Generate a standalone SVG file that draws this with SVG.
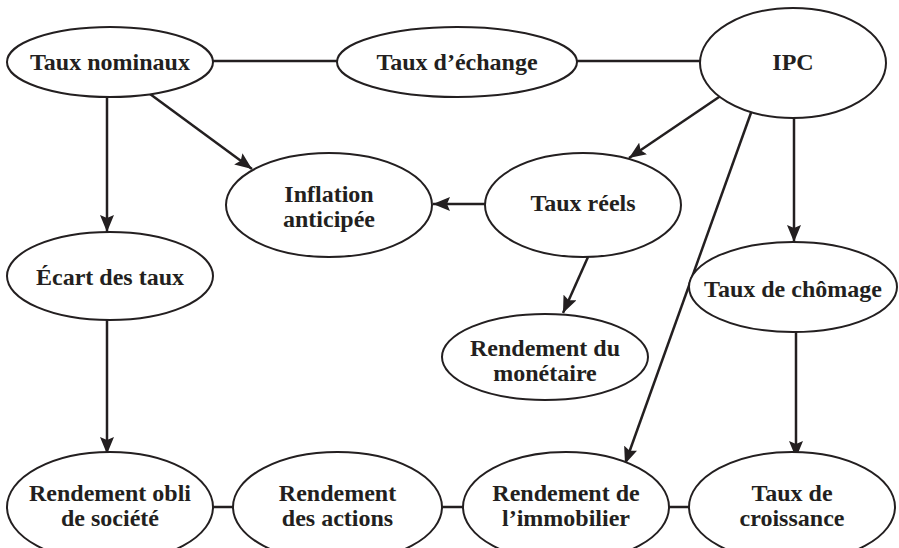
<svg xmlns="http://www.w3.org/2000/svg" width="899" height="548" viewBox="0 0 899 548">
<style>
.n ellipse{fill:#fff;stroke:#231f20;stroke-width:2}
.n text{font-family:"Liberation Serif","Times New Roman",serif;font-weight:bold;font-size:24px;fill:#231f20;text-anchor:middle}
.c line{stroke:#231f20;stroke-width:2.5;fill:none}
.c .a{marker-end:url(#ah)}
</style>
<defs>
<marker id="ah" markerUnits="userSpaceOnUse" markerWidth="18" markerHeight="14" refX="17" refY="7" orient="auto">
<path d="M0,0 L17,7 L0,14 L3,7 Z" fill="#231f20"/>
</marker>
</defs>
<rect width="899" height="548" fill="#fff"/>
<g class="c" id="connectors">
<line x1="213" y1="61" x2="337" y2="61"/>
<line x1="577" y1="61" x2="700" y2="61"/>
<line x1="213" y1="507" x2="233" y2="507"/>
<line x1="442" y1="507" x2="463" y2="507"/>
<line x1="669" y1="507" x2="690" y2="507"/>
<line class="a" x1="107" y1="96" x2="107" y2="232"/>
<line class="a" x1="150" y1="94" x2="252" y2="169"/>
<line class="a" x1="485" y1="204" x2="433" y2="204"/>
<line class="a" x1="722" y1="95" x2="629" y2="158"/>
<line class="a" x1="752" y1="110" x2="625" y2="464"/>
<line class="a" x1="794" y1="117" x2="794" y2="242"/>
<line class="a" x1="588" y1="257" x2="563" y2="313"/>
<line class="a" x1="107" y1="320" x2="107" y2="454"/>
<line class="a" x1="796" y1="332" x2="796" y2="458"/>
</g>
<g class="n" id="taux-nominaux"><ellipse cx="110" cy="62" rx="103" ry="35"/><text x="110" y="70">Taux nominaux</text></g>
<g class="n" id="taux-echange"><ellipse cx="457" cy="62" rx="120" ry="35"/><text x="457" y="70">Taux d’échange</text></g>
<g class="n" id="ipc"><ellipse cx="793" cy="63" rx="93" ry="55"/><text x="793" y="70">IPC</text></g>
<g class="n" id="inflation"><ellipse cx="329" cy="205" rx="103" ry="52"/><text x="329" y="202">Inflation</text><text x="329" y="227">anticipée</text></g>
<g class="n" id="taux-reels"><ellipse cx="583" cy="205" rx="98" ry="52"/><text x="583" y="211">Taux réels</text></g>
<g class="n" id="ecart"><ellipse cx="110" cy="276" rx="103" ry="44"/><text x="110" y="285">Écart des taux</text></g>
<g class="n" id="monetaire"><ellipse cx="545" cy="357" rx="103" ry="43"/><text x="545" y="356">Rendement du</text><text x="545" y="381">monétaire</text></g>
<g class="n" id="chomage"><ellipse cx="793" cy="287" rx="104" ry="45"/><text x="793" y="297">Taux de chômage</text></g>
<g class="n" id="obli"><ellipse cx="110" cy="507" rx="103" ry="55"/><text x="110" y="501">Rendement obli</text><text x="110" y="526">de société</text></g>
<g class="n" id="actions"><ellipse cx="337.5" cy="507" rx="104.5" ry="55"/><text x="337.5" y="501">Rendement</text><text x="337.5" y="526">des actions</text></g>
<g class="n" id="immobilier"><ellipse cx="566" cy="507" rx="103" ry="55"/><text x="566" y="501">Rendement de</text><text x="566" y="526">l’immobilier</text></g>
<g class="n" id="croissance"><ellipse cx="792" cy="507" rx="103" ry="55"/><text x="792" y="501">Taux de</text><text x="792" y="526">croissance</text></g>
</svg>
